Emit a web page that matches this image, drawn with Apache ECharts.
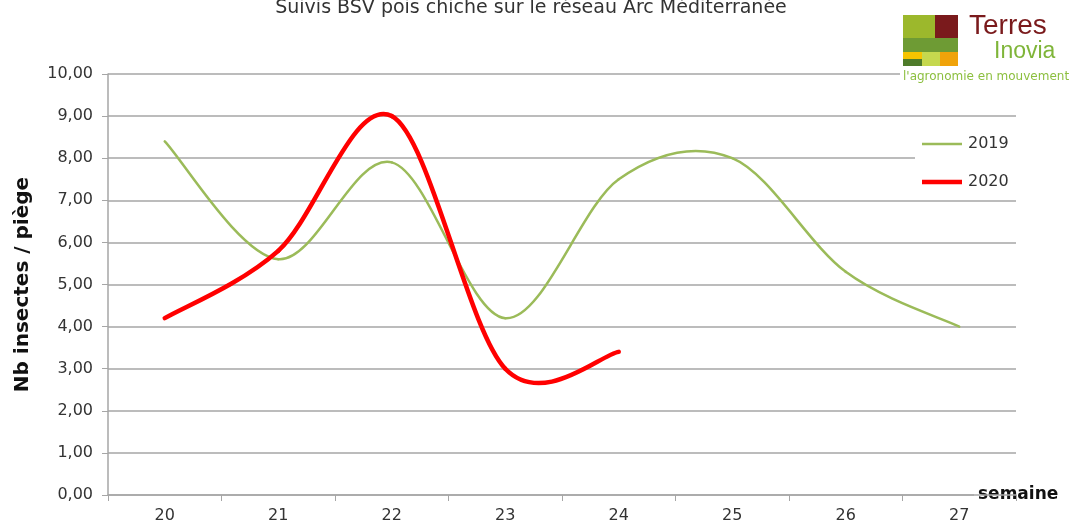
<!DOCTYPE html>
<html>
<head>
<meta charset="utf-8">
<script src="https://cdn.jsdelivr.net/npm/echarts@6/dist/echarts.min.js"></script>
<style>
html,body{margin:0;padding:0;background:#fff;}
#c{width:1078px;height:526px;}
</style>
</head>
<body>
<div id="c"></div>
<script>
const weeks = ['20','21','22','23','24','25','26','27'];
const s2019 = [8.4, 5.6, 7.9, 4.2, 7.5, 8.0, 5.3, 4.0];
const s2020 = [4.2, 5.8, 9.0, 3.0, 3.4];
const seriesNames = ['2019','2020'];
const titleText = 'Suivis BSV pois chiche sur le réseau Arc Méditerranée';
const yName = 'Nb insectes / piège';
const xName = 'semaine';

const FONT = 'DejaVu Sans';
const COLORS = ['#9bbb59', '#ff0000'];
const WIDTHS = [2.5, 4.5];

// Excel-like smoothed line (Catmull-Rom bezier), drawn through the axis scales
function smoothRenderer(arr, color, width) {
  return function (params, api) {
    const i = params.dataIndex;
    if (i >= arr.length - 1) return null;
    const c = k => api.coord([k, arr[k]]);
    const p0 = c(Math.max(i - 1, 0));
    const p1 = c(i);
    const p2 = c(i + 1);
    const p3 = c(Math.min(i + 2, arr.length - 1));
    return {
      type: 'bezierCurve',
      shape: {
        x1: p1[0], y1: p1[1], x2: p2[0], y2: p2[1],
        cpx1: p1[0] + (p2[0] - p0[0]) / 6, cpy1: p1[1] + (p2[1] - p0[1]) / 6,
        cpx2: p2[0] - (p3[0] - p1[0]) / 6, cpy2: p2[1] - (p3[1] - p1[1]) / 6
      },
      style: {stroke: color, lineWidth: width, fill: null, lineCap: 'round'}
    };
  };
}

const chart = echarts.init(document.getElementById('c'));
chart.setOption({
  backgroundColor: '#fff',
  animation: false,
  title: {
    text: titleText,
    left: 526, textAlign: 'center', top: -6,
    textStyle: {fontFamily: FONT, fontSize: 19, fontWeight: 'normal', color: '#333'}
  },
  grid: {left: 108, right: 62, top: 74, bottom: 31, containLabel: false},
  legend: [
    {
      left: 922, top: 136, padding: 0,
      itemWidth: 40, itemHeight: 2.5, itemGap: 0,
      textStyle: {fontFamily: FONT, fontSize: 16, color: '#333', padding: [0,0,0,1]},
      data: [{name: seriesNames[0], icon: 'rect', itemStyle: {color: COLORS[0]}}]
    },
    {
      left: 922, top: 174, padding: 0,
      itemWidth: 40, itemHeight: 4.5, itemGap: 0,
      textStyle: {fontFamily: FONT, fontSize: 16, color: '#333', padding: [0,0,0,1]},
      data: [{name: seriesNames[1], icon: 'rect', itemStyle: {color: COLORS[1]}}]
    }
  ],
  xAxis: {
    type: 'category',
    data: weeks,
    boundaryGap: true,
    name: xName,
    nameLocation: 'end',
    nameGap: -42,
    nameTextStyle: {fontFamily: FONT, fontSize: 17, fontWeight: 'bold', color: '#111', backgroundColor: '#fff', padding: [2,2,2,4], verticalAlign: 'middle'},
    axisLine: {lineStyle: {color: '#a6a6a6', width: 1.5}},
    axisTick: {show: true, length: 6, lineStyle: {color: '#a6a6a6'}},
    axisLabel: {fontFamily: FONT, fontSize: 16, color: '#333', margin: 13}
  },
  yAxis: {
    type: 'value',
    min: 0, max: 10, interval: 1,
    name: yName,
    nameLocation: 'middle',
    nameGap: 75,
    nameTextStyle: {fontFamily: FONT, fontSize: 20, fontWeight: 'bold', color: '#111'},
    axisLine: {show: true, lineStyle: {color: '#a6a6a6', width: 1.5}},
    axisTick: {show: true, length: 6, lineStyle: {color: '#a6a6a6'}},
    axisLabel: {fontFamily: FONT, fontSize: 16, color: '#333', margin: 15,
      formatter: v => v.toFixed(2).replace('.', ',')},
    splitLine: {lineStyle: {color: '#a6a6a6', width: 1.5}}
  },
  series: [
    {name: seriesNames[0], type: 'custom', data: s2019.map((v, i) => [i, v]),
     encode: {x: 0, y: 1}, itemStyle: {color: COLORS[0]},
     renderItem: smoothRenderer(s2019, COLORS[0], WIDTHS[0]), z: 2, clip: false},
    {name: seriesNames[1], type: 'custom', data: s2020.map((v, i) => [i, v]),
     encode: {x: 0, y: 1}, itemStyle: {color: COLORS[1]},
     renderItem: smoothRenderer(s2020, COLORS[1], WIDTHS[1]), z: 3, clip: false}
  ],
  graphic: [
    {type: 'rect', z: 1, shape: {x: 915, y: 126, width: 102, height: 68}, style: {fill: '#fff'}},
    {type: 'rect', z: 1, shape: {x: 900, y: 68, width: 120, height: 10}, style: {fill: '#fff'}},
    {type: 'rect', shape: {x: 903, y: 15, width: 32, height: 23}, style: {fill: '#9cb82c'}},
    {type: 'rect', shape: {x: 935, y: 15, width: 23, height: 23}, style: {fill: '#7a1a1c'}},
    {type: 'rect', shape: {x: 903, y: 38, width: 55, height: 14}, style: {fill: '#6e9b34'}},
    {type: 'rect', shape: {x: 903, y: 52, width: 19, height: 7}, style: {fill: '#f5c400'}},
    {type: 'rect', shape: {x: 903, y: 59, width: 19, height: 7}, style: {fill: '#4e7b2a'}},
    {type: 'rect', shape: {x: 922, y: 52, width: 18, height: 14}, style: {fill: '#c5d84e'}},
    {type: 'rect', shape: {x: 940, y: 52, width: 18, height: 14}, style: {fill: '#f0a30a'}},
    {type: 'text', z: 2, left: 969, top: 12, style: {text: 'Terres', font: '28px "Liberation Sans"', fill: '#7a1a1c'}},
    {type: 'text', z: 2, left: 994, top: 40, style: {text: 'Inovia', font: '23px "Liberation Sans"', fill: '#7fb539'}},
    {type: 'text', z: 2, left: 903, top: 71, style: {text: "l'agronomie en mouvement", font: '12px "DejaVu Sans"', fill: '#8cbf3f'}}
  ]
});
</script>
</body>
</html>
